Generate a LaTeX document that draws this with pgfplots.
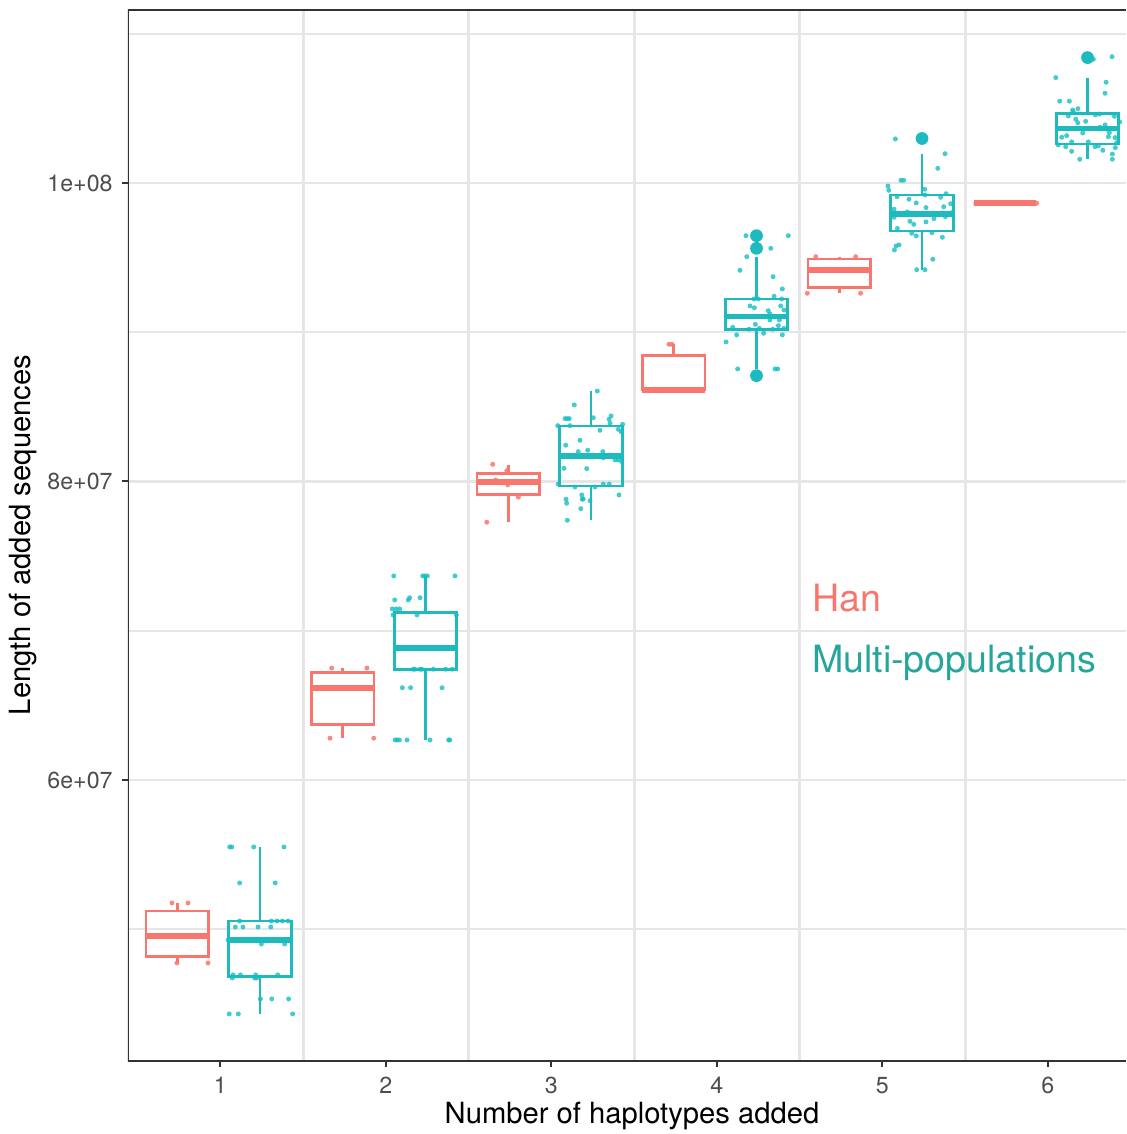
\documentclass[border=0pt]{standalone}
\usepackage{pgfplots}
\pgfplotsset{compat=1.18}
\usepgfplotslibrary{statistics}
\usepackage{fontspec}
\setmainfont{TeX Gyre Heros}
\definecolor{hanred}{HTML}{F8766D}
\definecolor{multiteal}{RGB}{20,190,194}
\definecolor{multiline}{RGB}{30,186,189}
\definecolor{multitext}{RGB}{38,166,154}
\definecolor{gridgray}{RGB}{230,230,230}
\definecolor{axisgray}{HTML}{333333}
\definecolor{ticktext}{HTML}{4D4D4D}
\pgfplotsset{
  hanbox/.style={draw=hanred, line width=1.4pt, solid, fill=none, mark=none,
    boxplot/every median/.style={line width=2.8pt}},
  multibox/.style={draw=multiline, line width=1.4pt, solid, fill=none, mark=none,
    boxplot/every median/.style={line width=2.8pt}},
}
\begin{document}
\begin{tikzpicture}
\begin{axis}[
  at={(0,0)}, anchor=south west,
  scale only axis, width=499pt, height=525.5pt,
  xmin=0.4423, xmax=6.4725, ymin=41.17, ymax=111.59,
  axis line style={draw=none},
  xtick={1,2,3,4,5,6}, xticklabels={1,2,3,4,5,6},
  minor xtick={1.5,2.5,3.5,4.5,5.5},
  ytick={60,80,100}, yticklabels={6e+07,8e+07,1e+08},
  minor ytick={50,70,90,110},
  ymajorgrids, yminorgrids, xminorgrids,
  major grid style={gridgray, line width=1.2pt},
  minor grid style={gridgray, line width=1.0pt},
  minor x grid style={gridgray, line width=1.5pt},
  tick align=outside, tick pos=left,
  major tick length=3pt, minor tick length=0pt,
  major tick style={axisgray, line width=1pt},
  minor tick style={draw=none},
  ticklabel style={font=\fontsize{11.6}{12}\selectfont, text=ticktext, inner sep=0pt},
  xticklabel style={anchor=north, yshift=-5pt},
  yticklabel style={anchor=east, xshift=-4.5pt},
  boxplot/draw direction=y,
]
% Han boxes
\addplot[hanbox, boxplot prepared={draw position=0.74, lower whisker=47.74, lower quartile=48.16, median=49.55, upper quartile=51.22, upper whisker=51.76, box extend=0.378, whisker extend=0}] coordinates {};
\addplot[hanbox, boxplot prepared={draw position=1.74, lower whisker=62.8, lower quartile=63.69, median=66.18, upper quartile=67.22, upper whisker=67.5, box extend=0.378, whisker extend=0}] coordinates {};
\addplot[hanbox, boxplot prepared={draw position=2.74, lower whisker=77.3, lower quartile=79.14, median=79.95, upper quartile=80.55, upper whisker=81.1, box extend=0.378, whisker extend=0}] coordinates {};
\addplot[hanbox, boxplot prepared={draw position=3.74, lower whisker=86.13, lower quartile=86.13, median=86.13, upper quartile=88.43, upper whisker=89.19, box extend=0.378, whisker extend=0}] coordinates {};
\addplot[hanbox, boxplot prepared={draw position=4.74, lower whisker=92.61, lower quartile=93.01, median=94.17, upper quartile=94.91, upper whisker=95.06, box extend=0.378, whisker extend=0}] coordinates {};
\addplot[hanbox, boxplot prepared={draw position=5.74, lower whisker=98.64, lower quartile=98.64, median=98.64, upper quartile=98.64, upper whisker=98.64, box extend=0.378, whisker extend=0}] coordinates {};
% Multi-populations boxes
\addplot[multibox, boxplot prepared={draw position=1.24, lower whisker=44.35, lower quartile=46.82, median=49.28, upper quartile=50.55, upper whisker=55.5, box extend=0.378, whisker extend=0}] coordinates {};
\addplot[multibox, boxplot prepared={draw position=2.24, lower whisker=62.7, lower quartile=67.42, median=68.86, upper quartile=71.24, upper whisker=73.65, box extend=0.378, whisker extend=0}] coordinates {};
\addplot[multibox, boxplot prepared={draw position=3.24, lower whisker=77.4, lower quartile=79.70, median=81.71, upper quartile=83.72, upper whisker=86.04, box extend=0.378, whisker extend=0}] coordinates {};
\addplot[multibox, boxplot prepared={draw position=4.24, lower whisker=87.52, lower quartile=90.20, median=91.04, upper quartile=92.23, upper whisker=95.05, box extend=0.378, whisker extend=0}] coordinates {};
\addplot[multibox, boxplot prepared={draw position=5.24, lower whisker=94.2, lower quartile=96.78, median=97.92, upper quartile=99.20, upper whisker=101.96, box extend=0.378, whisker extend=0}] coordinates {};
\addplot[multibox, boxplot prepared={draw position=6.24, lower whisker=101.59, lower quartile=102.61, median=103.66, upper quartile=104.67, upper whisker=107.03, box extend=0.378, whisker extend=0}] coordinates {};
% outliers
\addplot[only marks, mark=*, mark size=3.2pt, color=multiline, mark options={solid, fill=multiline, draw opacity=0}] coordinates {
(4.24,96.47) (4.24,95.62) (4.24,87.09) (5.24,102.98) (6.24,108.40)};
% Han jittered points
\addplot[only marks, mark=*, mark size=1.25pt, color=hanred, mark options={solid, fill=hanred, draw opacity=0, fill opacity=0.85}] coordinates {
(0.708,51.76) (0.805,51.76) (0.738,47.74) (0.926,47.74)
(1.673,67.5) (1.886,67.5) (1.663,62.8) (1.927,62.8) (1.723,66.18)
(2.646,81.15) (2.731,80.72) (2.664,80.10) (2.737,79.77) (2.801,78.95) (2.610,77.27)
(3.711,89.19) (3.729,89.19) (3.576,86.13) (3.607,86.13)
(4.598,95.06) (4.839,95.06) (4.547,92.61) (4.869,92.61)
(5.933,98.64) (5.711,98.64) (5.621,98.64)};
% Multi-populations jittered points
\addplot[only marks, mark=*, mark size=1.25pt, color=multiteal, mark options={solid, fill=multiteal, draw opacity=0, fill opacity=0.8}] coordinates {
(1.057,55.51) (1.069,55.51) (1.202,55.51) (1.385,55.51)
(1.117,53.10) (1.332,53.10)
(1.117,50.55) (1.308,50.55) (1.343,50.55) (1.375,50.55) (1.409,50.55)
(1.091,50.15) (1.137,50.15) (1.228,50.15) (1.305,50.15)
(1.047,49.28) (1.179,49.28) (1.270,49.28)
(1.248,49.01) (1.389,49.01)
(1.077,46.94) (1.121,46.94) (1.214,46.94) (1.347,46.94)
(1.073,46.73) (1.208,46.73) (1.220,46.73)
(1.242,45.33) (1.311,45.33) (1.413,45.33)
(1.054,44.32) (1.109,44.32) (1.437,44.32)
(2.048,73.67) (2.223,73.67) (2.237,73.67) (2.251,73.67) (2.418,73.67)
(2.054,72.06) (2.136,72.06) (2.144,72.21) (2.207,72.21)
(2.039,71.46) (2.062,71.46) (2.084,71.46)
(2.044,71.06) (2.189,71.06) (2.426,71.06)
(2.066,68.86) (2.106,68.86) (2.207,68.86) (2.368,68.86) (2.408,68.86)
(2.166,67.42) (2.176,67.42) (2.207,67.42) (2.217,67.42) (2.287,67.42) (2.362,67.42) (2.402,67.42)
(2.100,66.18) (2.150,66.18) (2.340,66.18)
(2.057,62.68) (2.068,62.68) (2.082,62.68) (2.128,62.68) (2.267,62.68) (2.380,62.68) (2.386,62.68)
(3.278,86.06) (3.139,85.13) (3.083,84.21) (3.097,84.21) (3.109,84.21) (3.254,84.27)
(3.349,84.17) (3.361,84.39) (3.355,83.90) (3.039,83.74) (3.113,83.74) (3.431,83.83)
(3.294,83.43) (3.405,83.50) (3.421,83.34) (3.087,82.43) (3.173,82.76)
(3.163,82.00) (3.220,82.09) (3.311,82.00) (3.234,81.64) (3.314,81.59)
(3.385,81.44) (3.405,81.44) (3.425,81.33) (3.077,80.88) (3.214,80.86)
(3.042,79.83) (3.143,79.63) (3.264,79.63) (3.314,79.83) (3.350,79.83)
(3.089,78.81) (3.093,78.54) (3.184,79.10) (3.187,78.81) (3.193,78.83)
(3.234,78.71) (3.409,79.10) (3.178,78.18) (3.097,77.40)
(4.176,96.47) (4.432,96.47) (4.326,95.62) (4.181,95.06) (4.140,94.15) (4.340,93.72)
(4.396,92.90) (4.346,92.41) (4.225,92.23) (4.251,92.23) (4.392,92.23)
(4.201,91.76) (4.227,91.64) (4.311,91.44) (4.386,91.76) (4.406,91.49) (4.321,91.22)
(4.060,91.04) (4.321,90.82) (4.378,90.82)
(4.096,90.33) (4.195,90.20) (4.233,90.53) (4.257,90.26) (4.338,90.20) (4.372,90.44) (4.406,90.26)
(4.120,89.82) (4.283,89.93) (4.396,89.82) (4.056,89.35)
(4.126,87.54) (4.352,87.54) (4.368,87.54) (4.217,87.09)
(5.079,102.95) (5.379,101.96) (5.335,100.98) (5.113,100.18) (5.129,100.18)
(5.034,99.80) (5.039,99.51) (5.256,99.58) (5.385,99.28) (5.089,99.08)
(5.161,98.91) (5.205,98.66) (5.258,99.20) (5.353,99.04) (5.413,98.61)
(5.371,98.41) (5.264,98.35) (5.071,98.24) (5.151,98.06) (5.421,98.01)
(5.071,97.70) (5.312,97.61) (5.381,97.74) (5.167,97.43) (5.190,97.23)
(5.264,97.39) (5.091,96.96) (5.178,96.63) (5.205,96.45) (5.300,96.67)
(5.363,96.36) (5.073,95.51) (5.083,95.78) (5.101,95.85) (5.305,94.89)
(5.208,94.19) (5.258,94.19)
(6.388,108.46) (6.275,108.29) (6.048,107.06) (6.352,106.75) (6.346,106.01)
(6.072,105.48) (6.130,105.48) (6.150,104.89) (6.182,104.98) (6.154,104.76)
(6.124,104.49) (6.287,104.56) (6.311,104.62) (6.402,104.47) (6.169,104.27)
(6.181,104.04) (6.229,104.13) (6.434,104.09) (6.346,103.89) (6.315,103.73)
(6.356,103.60) (6.134,103.64) (6.372,103.37) (6.211,103.35) (6.084,103.06)
(6.114,103.17) (6.366,103.10) (6.406,103.04) (6.144,102.75) (6.245,102.75)
(6.063,102.55) (6.108,102.43) (6.285,102.43) (6.305,102.48) (6.416,102.70)
(6.408,102.37) (6.332,102.19) (6.144,102.12) (6.390,101.94) (6.193,101.59)
(6.390,101.59)};
% annotations
\node[anchor=base west, inner sep=0pt, text=hanred, font=\fontsize{18.8}{20}\selectfont] at (axis cs:4.573,71.28) {Han};
\node[anchor=base west, inner sep=0pt, text=multitext, font=\fontsize{18.8}{20}\selectfont] at (axis cs:4.573,67.19) {Multi-populations};
% panel border (left, bottom, top)
\draw[axisgray, line width=1.1pt] (rel axis cs:1,1) -- (rel axis cs:0,1) -- (rel axis cs:0,0) -- (rel axis cs:1,0);
\end{axis}
\node[anchor=base, inner sep=0pt, font=\fontsize{14.6}{16}\selectfont] at (252pt,-31pt) {Number of haplotypes added};
\node[anchor=base, inner sep=0pt, rotate=90, font=\fontsize{14.6}{16}\selectfont] at (-48.5pt,263pt) {Length of added sequences};
\pgfresetboundingbox
\path[use as bounding box] (-64pt,-36.5pt) rectangle (499pt,530.5pt);
\end{tikzpicture}
\end{document}
